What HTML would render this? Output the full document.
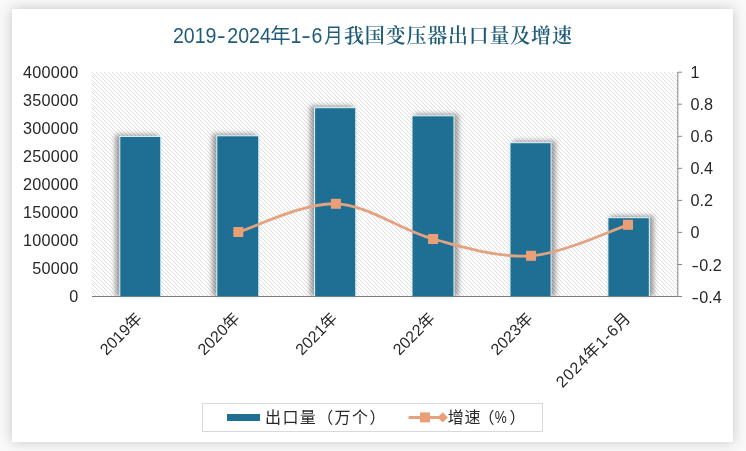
<!DOCTYPE html>
<html lang="zh"><head><meta charset="utf-8"><title>2019-2024年1-6月我国变压器出口量及增速</title>
<style>html,body{margin:0;padding:0}body{width:746px;height:451px;overflow:hidden;background:#f9f9f9;position:relative}
#card{position:absolute;left:12px;top:9px;width:721px;height:432.5px;background:#fff;box-shadow:0 0 12px rgba(0,0,0,.21)}
svg{position:absolute;left:0;top:0}
text{font-family:'Liberation Sans','Noto Sans CJK SC',sans-serif;fill:#282828}
</style></head><body><div id="card"></div>
<svg width="746" height="451" viewBox="0 0 746 451">
<defs>
<pattern id="hatch" width="4" height="4" patternUnits="userSpaceOnUse" x="92" y="72"><rect width="4" height="4" fill="#fff"/><path d="M-1 -1L5 5M-1 3L1 5M3 -1L5 1" stroke="#d8d8d8" stroke-width="0.85"/></pattern>
<filter id="sh" x="-30%" y="-10%" width="160%" height="120%"><feGaussianBlur stdDeviation="2.6"/></filter>
<clipPath id="pc"><rect x="92" y="72" width="586" height="224.3"/></clipPath>
</defs>
<rect x="92" y="72" width="586" height="224.3" fill="url(#hatch)"/>
<g clip-path="url(#pc)">
<rect x="115.3" y="134.4" width="43.0" height="161.9" fill="#000" opacity=".37" filter="url(#sh)"/>
<rect x="212.3" y="133.8" width="44.0" height="162.5" fill="#000" opacity=".37" filter="url(#sh)"/>
<rect x="310.1" y="105.7" width="43.2" height="190.6" fill="#000" opacity=".37" filter="url(#sh)"/>
<rect x="414.5" y="113.8" width="44.0" height="182.5" fill="#000" opacity=".37" filter="url(#sh)"/>
<rect x="512.5" y="140.7" width="43.1" height="155.6" fill="#000" opacity=".37" filter="url(#sh)"/>
<rect x="610.4" y="215.7" width="43.4" height="80.6" fill="#000" opacity=".37" filter="url(#sh)"/>
</g>
<rect x="119.8" y="136.4" width="41.0" height="160.4" fill="#1f6e93" stroke="#e2f8fa" stroke-width="1"/>
<rect x="216.8" y="135.8" width="42.0" height="161.0" fill="#1f6e93" stroke="#e2f8fa" stroke-width="1"/>
<rect x="314.6" y="107.7" width="41.2" height="189.1" fill="#1f6e93" stroke="#e2f8fa" stroke-width="1"/>
<rect x="412.0" y="115.8" width="42.0" height="181.0" fill="#1f6e93" stroke="#e2f8fa" stroke-width="1"/>
<rect x="510.0" y="142.7" width="41.1" height="154.1" fill="#1f6e93" stroke="#e2f8fa" stroke-width="1"/>
<rect x="607.9" y="217.7" width="41.4" height="79.1" fill="#1f6e93" stroke="#e2f8fa" stroke-width="1"/>
<rect x="119.8" y="296.9" width="41.0" height="2.2" fill="#dcf5f8" opacity=".5"/>
<rect x="216.8" y="296.9" width="42.0" height="2.2" fill="#dcf5f8" opacity=".5"/>
<rect x="314.6" y="296.9" width="41.2" height="2.2" fill="#dcf5f8" opacity=".5"/>
<rect x="412.0" y="296.9" width="42.0" height="2.2" fill="#dcf5f8" opacity=".5"/>
<rect x="510.0" y="296.9" width="41.1" height="2.2" fill="#dcf5f8" opacity=".5"/>
<rect x="607.9" y="296.9" width="41.4" height="2.2" fill="#dcf5f8" opacity=".5"/>
<path d="M92 296.5 H678" stroke="#7d7d7d" stroke-width="1" fill="none"/>
<path d="M677.8 72 V296.9 M678 72.2 h4 M678 104.2 h4 M678 136.3 h4 M678 168.3 h4 M678 200.4 h4 M678 232.4 h4 M678 264.5 h4 M678 296.5 h4" stroke="#868686" stroke-width="1" fill="none"/>
<path d="M238.3 232.0 C254.6 227.3 303.4 202.6 335.9 203.8 C368.4 205.0 400.6 230.3 433.1 239.0 C465.6 247.7 498.5 258.2 531.0 255.8 C563.5 253.4 611.8 230.0 628.0 224.8" stroke="#e3a381" stroke-width="2.8" fill="none" stroke-linecap="round"/>
<rect x="233.3" y="227.0" width="10" height="10" fill="#eb9f76"/>
<rect x="330.9" y="198.8" width="10" height="10" fill="#eb9f76"/>
<rect x="428.1" y="234.0" width="10" height="10" fill="#eb9f76"/>
<rect x="526.0" y="250.8" width="10" height="10" fill="#eb9f76"/>
<rect x="623.0" y="219.8" width="10" height="10" fill="#eb9f76"/>
<text x="78.6" y="78.0" font-size="16.2" letter-spacing="0.27" text-anchor="end">400000</text>
<text x="78.6" y="106.0" font-size="16.2" letter-spacing="0.27" text-anchor="end">350000</text>
<text x="78.6" y="134.1" font-size="16.2" letter-spacing="0.27" text-anchor="end">300000</text>
<text x="78.6" y="162.1" font-size="16.2" letter-spacing="0.27" text-anchor="end">250000</text>
<text x="78.6" y="190.1" font-size="16.2" letter-spacing="0.27" text-anchor="end">200000</text>
<text x="78.6" y="218.2" font-size="16.2" letter-spacing="0.27" text-anchor="end">150000</text>
<text x="78.6" y="246.2" font-size="16.2" letter-spacing="0.27" text-anchor="end">100000</text>
<text x="78.6" y="274.2" font-size="16.2" letter-spacing="0.27" text-anchor="end">50000</text>
<text x="78.6" y="302.2" font-size="16.2" letter-spacing="0.27" text-anchor="end">0</text>
<text x="690.5" y="78.2" font-size="16.2">1</text>
<text x="690.5" y="110.2" font-size="16.2">0.8</text>
<text x="690.5" y="142.3" font-size="16.2">0.6</text>
<text x="690.5" y="174.3" font-size="16.2">0.4</text>
<text x="690.5" y="206.4" font-size="16.2">0.2</text>
<text x="690.5" y="238.4" font-size="16.2">0</text>
<text x="691.6" y="270.5" font-size="16.2" textLength="7.4" lengthAdjust="spacingAndGlyphs">-</text>
<text x="699.3" y="270.5" font-size="16.2">0.2</text>
<text x="691.6" y="302.5" font-size="16.2" textLength="7.4" lengthAdjust="spacingAndGlyphs">-</text>
<text x="699.3" y="302.5" font-size="16.2">0.4</text>
<text font-size="16" text-anchor="end" transform="translate(143.0,319.5) rotate(-45)">2019年</text>
<text font-size="16" text-anchor="end" transform="translate(240.7,319.5) rotate(-45)">2020年</text>
<text font-size="16" text-anchor="end" transform="translate(338.4,319.5) rotate(-45)">2021年</text>
<text font-size="16" text-anchor="end" transform="translate(436.0,319.5) rotate(-45)">2022年</text>
<text font-size="16" text-anchor="end" transform="translate(533.7,319.5) rotate(-45)">2023年</text>
<text font-size="16" text-anchor="end" textLength="97.5" transform="translate(631.4,319.5) rotate(-45)">2024年1-6月</text>
<text x="172.9" y="42.8" font-size="22.6" textLength="43.6" lengthAdjust="spacingAndGlyphs" style="font-family:'Liberation Sans','Noto Sans CJK SC',sans-serif;fill:#1f5c7a">2019</text>
<text x="217" y="42.8" font-size="22.6" textLength="8.6" lengthAdjust="spacingAndGlyphs" style="font-family:'Liberation Sans','Noto Sans CJK SC',sans-serif;fill:#1f5c7a">-</text>
<text x="227.3" y="42.8" font-size="22.6" textLength="43.6" lengthAdjust="spacingAndGlyphs" style="font-family:'Liberation Sans','Noto Sans CJK SC',sans-serif;fill:#1f5c7a">2024</text>
<text x="270.2" y="42.8" font-size="20.6" textLength="20.4" lengthAdjust="spacingAndGlyphs" style="font-family:'Noto Sans CJK SC','Liberation Sans',sans-serif;fill:#1f5c7a">年</text>
<text x="290.4" y="42.8" font-size="22.6" textLength="10.9" lengthAdjust="spacingAndGlyphs" style="font-family:'Liberation Sans','Noto Sans CJK SC',sans-serif;fill:#1f5c7a">1</text>
<text x="301.3" y="42.8" font-size="22.6" textLength="9.6" lengthAdjust="spacingAndGlyphs" style="font-family:'Liberation Sans','Noto Sans CJK SC',sans-serif;fill:#1f5c7a">-</text>
<text x="311.4" y="42.8" font-size="22.6" textLength="10.9" lengthAdjust="spacingAndGlyphs" style="font-family:'Liberation Sans','Noto Sans CJK SC',sans-serif;fill:#1f5c7a">6</text>
<text x="324.2" y="42.9" font-size="20.6" textLength="18.5" lengthAdjust="spacingAndGlyphs" style="font-family:'Noto Sans CJK SC','Liberation Sans',sans-serif;fill:#1f5c7a">月</text>
<text x="344.1" y="42.5" font-size="20" letter-spacing="0.78" style="font-family:'Noto Serif CJK SC','Liberation Serif',serif;font-weight:600;fill:#1f5c7a">我国变压器出口量及增速</text>
<rect x="202.5" y="403.5" width="340" height="28" fill="#fff" stroke="#d9d9d9" stroke-width="1"/>
<rect x="227" y="414" width="33" height="7" fill="#1f6e93"/>
<text x="265" y="423.1" font-size="16" letter-spacing="1.4">出口量（万个）</text>
<path d="M408.6 417.4H446" stroke="#e3a381" stroke-width="3" fill="none"/>
<rect x="420" y="412.4" width="10" height="10" fill="#eb9f76"/>
<path d="M442.7 412.2l5.1 5.2-5.1 5.2-5.1-5.2z" fill="#eb9f76"/>
<text x="447.7" y="423.1" font-size="16" letter-spacing="0.9">增速</text>
<text x="478.5" y="423.1" font-size="16">（</text>
<text x="494.8" y="423.1" font-size="16" textLength="12" lengthAdjust="spacingAndGlyphs">%</text>
<text x="509.6" y="423.1" font-size="16">）</text>
</svg></body></html>
